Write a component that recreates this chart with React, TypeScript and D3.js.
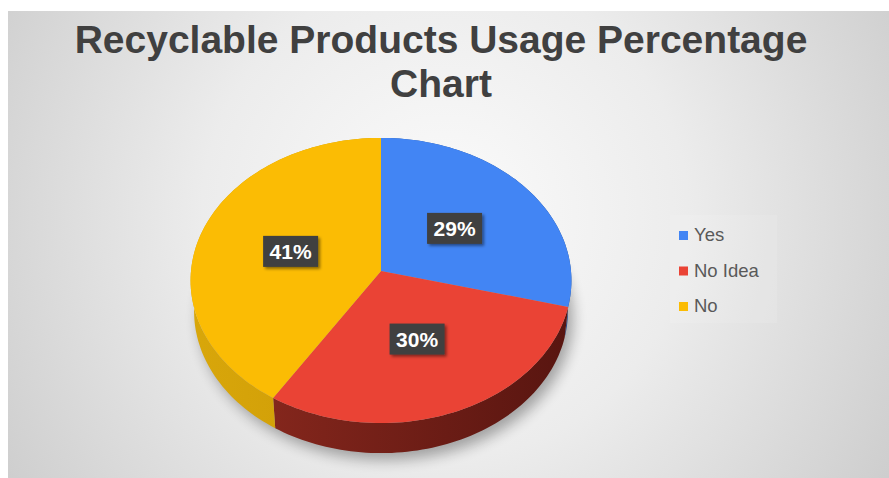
import React from 'react';
import * as d3 from 'd3';

const categories = ['Yes', 'No Idea', 'No'];
const values = [29, 30, 41];
const titleLines = ['Recyclable Products Usage Percentage', 'Chart'];
const topColors = ['#4285f4', '#ea4335', '#fbbc04'];
const sideLight = ['#3068c0', '#8e2a1f', '#d8a60a'];
const sideDark = ['#22498a', '#581510', '#c08e02'];

const W = 889;
const H = 478;
// perspective projection of a tilted disk
const CX = 381, CY = 271, F = 1900, DIST = 10, SIN = 0.747, COS = 0.665, T = 0.249;

function proj(theta: number, r: number, h: number): [number, number] {
  const u = r * Math.sin(theta);
  const v = -r * Math.cos(theta);
  const z = DIST - v * COS - h * SIN;
  return [CX + (F * u) / z, CY + (F * (v * SIN - h * COS)) / z];
}

function arcPts(a0: number, a1: number, h: number): [number, number][] {
  const n = Math.max(4, Math.ceil(((a1 - a0) / (Math.PI * 2)) * 240));
  const pts: [number, number][] = [];
  for (let i = 0; i <= n; i++) pts.push(proj(a0 + ((a1 - a0) * i) / n, 1, h));
  return pts;
}

const line = d3.line();

export default function App() {
  const arcs = d3.pie<number>().sort(null).startAngle(0).endAngle(Math.PI * 2)(values);
  const total = d3.sum(values);
  const fmt = (v: number) => d3.format('.0%')(v / total);

  const bottomRing = arcPts(0, Math.PI * 2, -T);

  return (
    <svg width={W} height={H} style={{ position: 'absolute', left: 0, top: 0, display: 'block' }}>
      <defs>
        <radialGradient id="bg" gradientUnits="userSpaceOnUse" cx={445} cy={215} r={540}>
          <stop offset="0" stopColor="#fbfbfb" />
          <stop offset="0.45" stopColor="#ececec" />
          <stop offset="1" stopColor="#cbcbcb" />
        </radialGradient>
        {arcs.map((a, i) => (
          <linearGradient key={i} id={`side${i}`} gradientUnits="userSpaceOnUse" x1={200} x2={570} y1={0} y2={0}>
            <stop offset="0" stopColor={sideLight[i]} />
            <stop offset="1" stopColor={sideDark[i]} />
          </linearGradient>
        ))}
        <filter id="pieShadow" x="-20%" y="-20%" width="140%" height="140%">
          <feGaussianBlur stdDeviation="7" />
        </filter>
        <filter id="boxShadow" x="-30%" y="-30%" width="160%" height="160%">
          <feDropShadow dx="2" dy="2" stdDeviation="1.8" floodColor="#000" floodOpacity="0.45" />
        </filter>
      </defs>

      <rect x={8} y={11} width={W - 8} height={H - 11} fill="url(#bg)" />

      {titleLines.map((t, i) => (
        <text
          key={i}
          x={441}
          y={53 + i * 44}
          textAnchor="middle"
          fontFamily="'Liberation Sans', Arial, sans-serif"
          fontWeight="bold"
          fontSize={39}
          fill="#404040"
        >
          {t}
        </text>
      ))}

      {/* shadow */}
      <path
        d={(line(bottomRing.map(([x, y]) => [x + 5, y + 7])) as string) + 'Z'}
        fill="#000"
        opacity={0.32}
        filter="url(#pieShadow)"
      />

      {/* side walls */}
      {arcs.map((a, i) => {
        const top = arcPts(a.startAngle, a.endAngle, 0);
        const bot = arcPts(a.startAngle, a.endAngle, -T).reverse();
        return <path key={`w${i}`} d={(line([...top, ...bot]) as string) + 'Z'} fill={`url(#side${i})`} />;
      })}

      {/* top faces */}
      {arcs.map((a, i) => {
        const pts: [number, number][] = [[CX, CY], ...arcPts(a.startAngle, a.endAngle, 0)];
        return <path key={`t${i}`} d={(line(pts) as string) + 'Z'} fill={topColors[i]} />;
      })}

      {/* data labels */}
      {arcs.map((a, i) => {
        const mid = (a.startAngle + a.endAngle) / 2;
        const [lx, ly] = proj(mid, 0.5, 0);
        const bw = 55, bh = 31;
        return (
          <g key={`l${i}`}>
            <rect x={lx - bw / 2} y={ly - bh / 2} width={bw} height={bh} fill="#404040" filter="url(#boxShadow)" />
            <text
              x={lx}
              y={ly + 7.5}
              textAnchor="middle"
              fontFamily="'Liberation Sans', Arial, sans-serif"
              fontWeight="bold"
              fontSize={21}
              fill="#ffffff"
            >
              {fmt(a.data)}
            </text>
          </g>
        );
      })}

      {/* legend */}
      <rect x={670} y={215} width={107} height={108} fill="#ffffff" opacity={0.1} />
      {categories.map((c, i) => (
        <g key={`lg${i}`}>
          <rect x={679} y={231 + i * 35.5} width={9} height={9} fill={topColors[i]} />
          <text
            x={694}
            y={241 + i * 35.5}
            fontFamily="'Liberation Sans', Arial, sans-serif"
            fontSize={18.5}
            fill="#595959"
          >
            {c}
          </text>
        </g>
      ))}
    </svg>
  );
}
